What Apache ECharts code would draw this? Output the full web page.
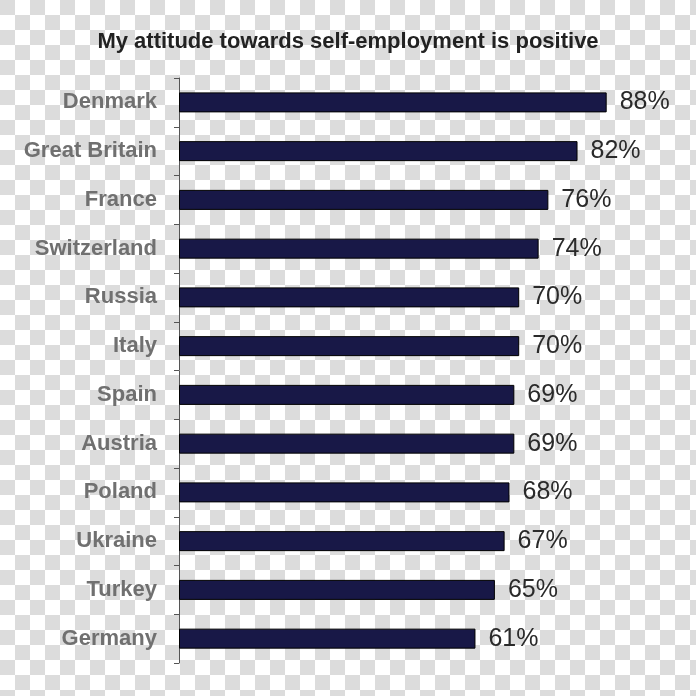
<!DOCTYPE html>
<html><head><meta charset="utf-8">
<script src="https://cdn.jsdelivr.net/npm/echarts@6/dist/echarts.min.js"></script>
<style>
html,body{margin:0;padding:0;}
body{width:696px;height:696px;background-color:#fff;
background-image:
 linear-gradient(45deg,#dcdcdc 25%,transparent 25%,transparent 75%,#dcdcdc 75%),
 linear-gradient(45deg,#dcdcdc 25%,transparent 25%,transparent 75%,#dcdcdc 75%);
background-size:30px 30px;background-position:15px 0,0 15px;}
#c{width:696px;height:696px;}
</style></head><body><div id="c"></div>
<script>
const titleText = 'My attitude towards self-employment is positive';
const countries = ['Denmark','Great Britain','France','Switzerland','Russia','Italy','Spain','Austria','Poland','Ukraine','Turkey','Germany'];
const values = [88,82,76,74,70,70,69,69,68,67,65,61];

const chart = echarts.init(document.getElementById('c'), null, {renderer:'canvas'});
chart.setOption({
  backgroundColor:'transparent',
  animation:false,
  title:{text:titleText,left:'center',top:26,
    textStyle:{fontFamily:'Liberation Sans',fontWeight:'bold',fontSize:22,color:'#222'}},
  grid:{left:179,right:31,top:78,bottom:33,containLabel:false},
  xAxis:{type:'value',min:0,max:100,show:false},
  yAxis:{type:'category',data:countries,inverse:true,offset:2,
    axisLine:{show:true,lineStyle:{color:'#555',width:1}},
    axisTick:{show:true,length:5,lineStyle:{color:'#555'}},
    axisLabel:{margin:20,fontFamily:'Liberation Sans',fontWeight:'bold',fontSize:22,color:'#707070'}},
  series:[{type:'bar',data:values,barWidth:20,
    itemStyle:{color:'#181847',borderColor:'#000',borderWidth:1},
    label:{show:true,position:'right',distance:13,formatter:'{c}%',
      fontFamily:'Liberation Sans',fontSize:25,color:'#2a2a2a'}}]
});
</script></body></html>
